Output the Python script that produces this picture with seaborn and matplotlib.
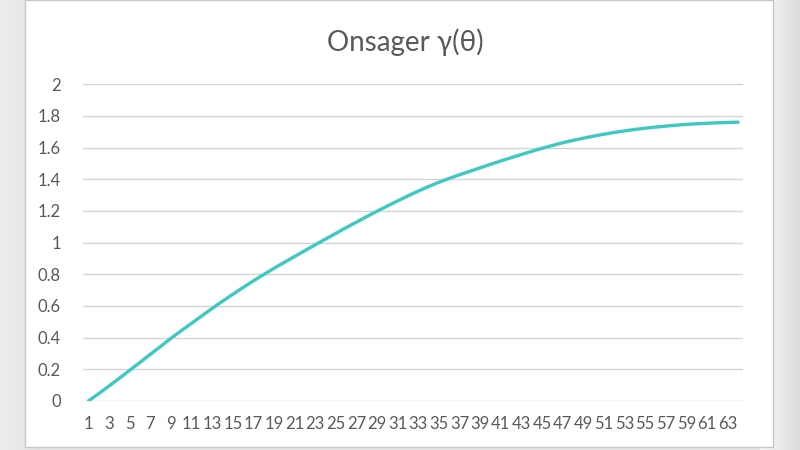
import numpy as np
import pandas as pd
import matplotlib
matplotlib.use("Agg")
import matplotlib.pyplot as plt
from matplotlib.patches import Rectangle
import seaborn as sns

# data (categories 1..64)
categories = list(range(1, 65))
gamma = [
    0.000, 0.046, 0.094, 0.143, 0.193, 0.243, 0.294, 0.344, 0.395, 0.443,
    0.490, 0.537, 0.584, 0.629, 0.673, 0.716, 0.758, 0.798, 0.837, 0.875,
    0.912, 0.949, 0.986, 1.022, 1.058, 1.094, 1.129, 1.164, 1.198, 1.231,
    1.263, 1.295, 1.325, 1.354, 1.381, 1.405, 1.428, 1.450, 1.472, 1.494,
    1.515, 1.536, 1.556, 1.576, 1.595, 1.613, 1.630, 1.645, 1.659, 1.672,
    1.684, 1.695, 1.705, 1.714, 1.722, 1.729, 1.735, 1.741, 1.746, 1.750,
    1.753, 1.756, 1.758, 1.760,
]
x_ticks = list(range(1, 64, 2))
y_ticks = [0, 0.2, 0.4, 0.6, 0.8, 1, 1.2, 1.4, 1.6, 1.8, 2]
y_labels = ["0", "0.2", "0.4", "0.6", "0.8", "1", "1.2", "1.4", "1.6", "1.8", "2"]

df = pd.DataFrame({"theta": categories, "gamma": gamma})

sns.set_style("white")
plt.rcParams["font.family"] = ["Lato", "DejaVu Sans"]

fig = plt.figure(figsize=(8, 4.5), dpi=100)
fig.patch.set_facecolor("#e4e4e4")

# grey side gradient behind the white chart box
bg = fig.add_axes([0, 0, 1, 1], zorder=-2)
grad = np.concatenate([np.linspace(0.93, 0.89, 40), np.full(720, 0.9), np.linspace(0.97, 0.86, 40)])
bg.imshow(np.tile(grad, (2, 1)), cmap="gray", vmin=0, vmax=1, aspect="auto", extent=[0, 1, 0, 1])
bg.set_axis_off()
fig.patches.append(Rectangle((0.031, 0.006), 0.935, 0.994, transform=fig.transFigure,
                             facecolor="white", edgecolor="#c6c6c6", lw=1, zorder=-1))

ax = fig.add_axes([0.104, 0.109, 0.825, 0.704])
ax.set_facecolor("none")
sns.lineplot(data=df, x="theta", y="gamma", ax=ax, color="#3ec8c2", linewidth=2.4,
             solid_capstyle="round")

ax.set_xlim(0.5, 64.5)
ax.set_ylim(0, 2)
ax.set_yticks(y_ticks)
ax.set_yticklabels(y_labels)
ax.set_xticks(x_ticks)
ax.set_xticklabels([str(t) for t in x_ticks])
ax.tick_params(axis="both", length=0, labelsize=12, labelcolor="#595959")
ax.tick_params(axis="y", pad=16)
ax.tick_params(axis="x", pad=11)
ax.yaxis.grid(True, color="#d4d4d4", linewidth=1)
ax.set_axisbelow(True)
for s in ax.spines.values():
    s.set_visible(False)
ax.set_xlabel("")
ax.set_ylabel("")

fig.text(0.507, 0.907, "Onsager γ(θ)", ha="center", va="center", fontsize=20,
         fontweight="normal", color="#595959")

fig.savefig("out.png", dpi=100, facecolor=fig.get_facecolor())
